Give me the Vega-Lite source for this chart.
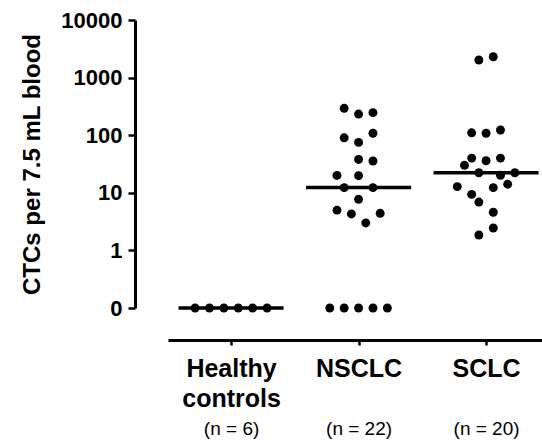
{
  "$schema": "https://vega.github.io/schema/vega-lite/v6.json",
  "width": 374,
  "height": 288,
  "autosize": {"type": "none"},
  "padding": {"left": 168, "top": 20, "right": 0, "bottom": 136},
  "background": "white",
  "config": {
    "view": {"stroke": null},
    "mark": {"invalid": "show"},
    "axis": {"labelFont": "Liberation Sans", "titleFont": "Liberation Sans", "labelColor": "black", "titleColor": "black", "domainColor": "black", "tickColor": "black", "grid": false}
  },
  "data": {
    "values": [
      {"group": "Healthy controls", "ctc": 0, "slot": -5},
      {"group": "Healthy controls", "ctc": 0, "slot": -3},
      {"group": "Healthy controls", "ctc": 0, "slot": -1},
      {"group": "Healthy controls", "ctc": 0, "slot": 1},
      {"group": "Healthy controls", "ctc": 0, "slot": 3},
      {"group": "Healthy controls", "ctc": 0, "slot": 5},
      {"group": "NSCLC", "ctc": 293, "slot": -2},
      {"group": "NSCLC", "ctc": 233, "slot": 0},
      {"group": "NSCLC", "ctc": 246, "slot": 2},
      {"group": "NSCLC", "ctc": 90, "slot": -2},
      {"group": "NSCLC", "ctc": 75, "slot": 0},
      {"group": "NSCLC", "ctc": 108, "slot": 2},
      {"group": "NSCLC", "ctc": 38, "slot": 0},
      {"group": "NSCLC", "ctc": 35.6, "slot": 2},
      {"group": "NSCLC", "ctc": 20, "slot": -3},
      {"group": "NSCLC", "ctc": 19.8, "slot": 0},
      {"group": "NSCLC", "ctc": 12.3, "slot": -2},
      {"group": "NSCLC", "ctc": 12.3, "slot": 2},
      {"group": "NSCLC", "ctc": 7.7, "slot": 0},
      {"group": "NSCLC", "ctc": 5.0, "slot": -3},
      {"group": "NSCLC", "ctc": 4.3, "slot": -1},
      {"group": "NSCLC", "ctc": 4.4, "slot": 3},
      {"group": "NSCLC", "ctc": 3.0, "slot": 1},
      {"group": "NSCLC", "ctc": 0, "slot": -4},
      {"group": "NSCLC", "ctc": 0, "slot": -2},
      {"group": "NSCLC", "ctc": 0, "slot": 0},
      {"group": "NSCLC", "ctc": 0, "slot": 2},
      {"group": "NSCLC", "ctc": 0, "slot": 4},
      {"group": "SCLC", "ctc": 2020, "slot": -1},
      {"group": "SCLC", "ctc": 2300, "slot": 1},
      {"group": "SCLC", "ctc": 110, "slot": -2},
      {"group": "SCLC", "ctc": 108, "slot": 0},
      {"group": "SCLC", "ctc": 123, "slot": 2},
      {"group": "SCLC", "ctc": 40, "slot": -2},
      {"group": "SCLC", "ctc": 36, "slot": 0},
      {"group": "SCLC", "ctc": 40, "slot": 2},
      {"group": "SCLC", "ctc": 30, "slot": -3},
      {"group": "SCLC", "ctc": 22.3, "slot": -1},
      {"group": "SCLC", "ctc": 20.1, "slot": 2},
      {"group": "SCLC", "ctc": 22.3, "slot": 4},
      {"group": "SCLC", "ctc": 12.8, "slot": -4},
      {"group": "SCLC", "ctc": 12.3, "slot": 1},
      {"group": "SCLC", "ctc": 14.1, "slot": 3},
      {"group": "SCLC", "ctc": 9.4, "slot": -2},
      {"group": "SCLC", "ctc": 6.9, "slot": -1},
      {"group": "SCLC", "ctc": 4.6, "slot": 1},
      {"group": "SCLC", "ctc": 2.45, "slot": 1},
      {"group": "SCLC", "ctc": 1.85, "slot": -1}
    ]
  },
  "layer": [
    {
      "mark": {"type": "circle", "size": 80, "color": "black", "opacity": 1},
      "encoding": {
        "x": {
          "field": "group", "type": "nominal", "sort": ["Healthy controls", "NSCLC", "SCLC"],
          "scale": {"type": "point", "padding": 0.4667, "align": 0.53},
          "axis": {
            "orient": "bottom", "title": null, "offset": 32, "labelAngle": 0,
            "labelExpr": "split(datum.value, ' ')",
            "labelFontSize": 25, "labelFontWeight": "bold", "labelLineHeight": 30, "labelPadding": 11,
            "domainWidth": 3, "tickWidth": 2.5, "tickSize": 5
          }
        },
        "xOffset": {"field": "slot", "type": "quantitative", "scale": {"domain": [-5, 5], "range": [-36, 36]}},
        "y": {
          "field": "ctc", "type": "quantitative",
          "scale": {"type": "log", "domain": [0.1, 10000], "clamp": true},
          "axis": {
            "title": "CTCs per 7.5 mL blood", "titleFontSize": 24, "titleFontWeight": "bold", "titlePadding": 16,
            "offset": 33, "values": [0.1, 1, 10, 100, 1000, 10000],
            "labelExpr": "datum.value < 0.5 ? '0' : format(datum.value, 'd')",
            "labelFontSize": 22, "labelFontWeight": "bold", "labelPadding": 6,
            "domainWidth": 3, "tickWidth": 2.5, "tickSize": 7
          }
        }
      }
    },
    {
      "mark": {"type": "tick", "orient": "horizontal", "size": 105, "thickness": 3.5, "color": "black"},
      "encoding": {
        "x": {
          "field": "group", "type": "nominal", "sort": ["Healthy controls", "NSCLC", "SCLC"],
          "axis": {
            "orient": "bottom", "title": null, "offset": 32, "labelAngle": 0, "domain": false, "ticks": false,
            "labelExpr": "datum.value == 'Healthy controls' ? '(n = 6)' : datum.value == 'NSCLC' ? '(n = 22)' : '(n = 20)'",
            "labelFontSize": 19, "labelFontWeight": "normal", "labelPadding": 79
          }
        },
        "y": {"aggregate": "median", "field": "ctc", "type": "quantitative"}
      }
    }
  ],
  "resolve": {"axis": {"x": "independent"}}
}
